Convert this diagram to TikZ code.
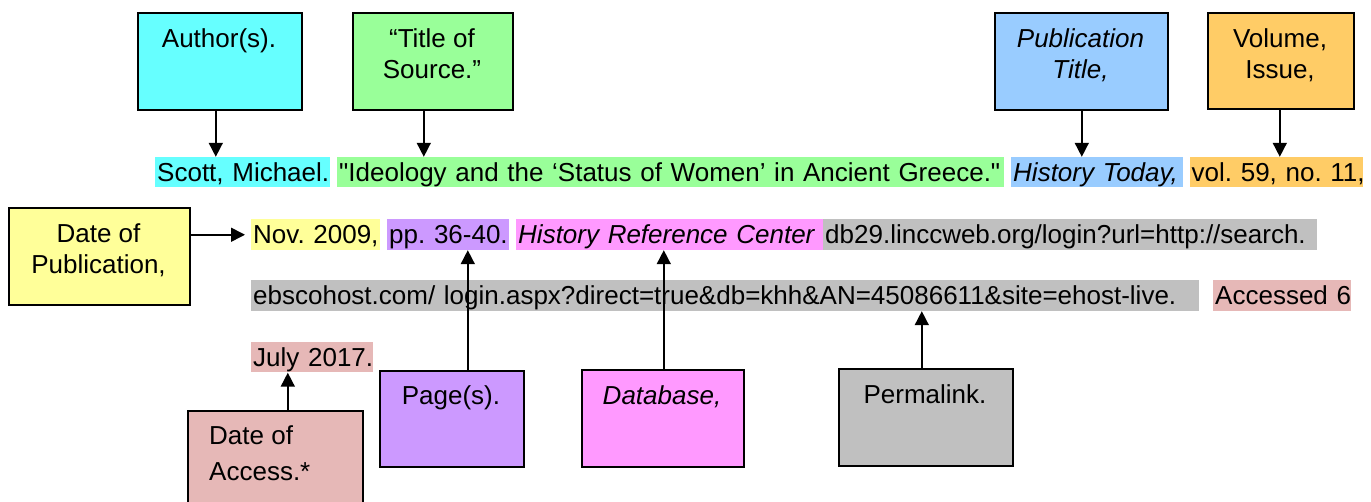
\documentclass[tikz,border=0pt]{standalone}
\usepackage{fontspec}
\setmainfont{Liberation Sans}
\usetikzlibrary{arrows.meta}
\newcommand\citefs{\fontsize{26pt}{30pt}\selectfont\frenchspacing}
\definecolor{cyanc}{HTML}{66FFFF}
\definecolor{greenc}{HTML}{99FF99}
\definecolor{bluec}{HTML}{99CCFF}
\definecolor{orangec}{HTML}{FFCC66}
\definecolor{yellowc}{HTML}{FFFF99}
\definecolor{purplec}{HTML}{CC99FF}
\definecolor{pinkc}{HTML}{FF99FF}
\definecolor{grayc}{HTML}{C0C0C0}
\definecolor{rosec}{HTML}{E6B8B7}
\begin{document}
\frenchspacing
\begin{tikzpicture}[x=1pt,y=-1pt,
  box/.style={draw=black, line width=1.6pt, inner sep=0pt, anchor=north west},
  lbl/.style={font=\citefs, anchor=base, inner sep=0pt},
  hl/.style={font=\citefs, anchor=base west, inner xsep=2pt, inner ysep=0pt,
    text height=24.5pt, text depth=6pt, align=left},
  arr/.style={line width=1.6pt, -{Triangle[width=14pt,length=14pt]}}]
\clip (0,0) rectangle (1371,502);
\fill[white] (0,0) rectangle (1371,502);

% label boxes
\node[box, fill=cyanc, minimum width=164pt, minimum height=97pt] (author) at (137,12) {};
\node[lbl] (authorT) at (219,48) {Author(s).};

\node[box, fill=greenc, minimum width=160pt, minimum height=97pt] (title) at (352,12) {};
\node[lbl] (titleA) at (432,48) {“Title of};
\node[lbl] (titleB) at (432,79) {Source.”};

\node[box, fill=bluec, minimum width=173pt, minimum height=97pt] (pubtitle) at (994,12) {};
\node[lbl, font=\citefs\itshape] (pubA) at (1080.5,48) {Publication};
\node[lbl, font=\citefs\itshape] (pubB) at (1080.5,79) {Title,};

\node[box, fill=orangec, minimum width=146pt, minimum height=96pt] (volume) at (1207,12) {};
\node[lbl] (volA) at (1280,48) {Volume,};
\node[lbl] (volB) at (1280,79) {Issue,};

\node[box, fill=yellowc, minimum width=181pt, minimum height=97pt] (datepub) at (8,207) {};
\node[lbl] (dpA) at (98.5,243) {Date of};
\node[lbl] (dpB) at (98.5,274) {Publication,};

\node[box, fill=rosec, minimum width=175pt, minimum height=120pt] (dateacc) at (187,410) {};
\node[lbl, anchor=base west] (daA) at (209,445) {Date of};
\node[lbl, anchor=base west] (daB) at (209,480) {Access.*};

\node[box, fill=purplec, minimum width=144pt, minimum height=96pt] (pages) at (379,370) {};
\node[lbl] (pgT) at (451,405) {Page(s).};

\node[box, fill=pinkc, minimum width=162pt, minimum height=97pt] (database) at (581,369) {};
\node[lbl, font=\citefs\itshape] (dbT) at (662,405) {Database,};

\node[box, fill=grayc, minimum width=174pt, minimum height=97pt] (permalink) at (838,368) {};
\node[lbl] (plT) at (925,403) {Permalink.};

% citation line 1
\node[hl, fill=cyanc, text width=171pt] (scott) at (155,181.5) {\mbox{Scott, Michael.}};
\node[hl, fill=greenc, text width=663pt] (ideo) at (337,181.5) {\mbox{\textquotedbl Ideology and the ‘Status of Women’ in Ancient Greece.\textquotedbl}};
\node[hl, fill=bluec, text width=168pt] (htoday) at (1011,181.5) {\mbox{\itshape History Today,}};
\node[hl, fill=orangec, text width=170pt, inner xsep=1.5pt] (vol) at (1190,181.5) {\mbox{vol. 59, no. 11,}};

% citation line 2
\node[hl, fill=yellowc, text width=125pt] (nov) at (251,244) {\mbox{Nov. 2009,}};
\node[hl, fill=purplec, text width=118pt] (pp) at (387,244) {\mbox{pp. 36-40.}};
\node[hl, fill=pinkc, text width=303pt] (hrc) at (516,244) {\mbox{\itshape History Reference Center}};
\node[hl, fill=grayc, text width=490pt] (url1) at (823,244) {\mbox{db29.linccweb.org/login?url=http://search.}};

% citation line 3
\node[hl, fill=grayc, text width=944pt] (url2) at (251,305) {\mbox{ebscohost.com/ login.aspx?direct=true\&db=khh\&AN=45086611\&site=ehost-live.}};
\node[hl, fill=rosec, text width=134pt] (acc) at (1213,305) {\mbox{Accessed 6}};

% citation line 4
\node[hl, fill=rosec, text width=118pt] (july) at (251,366.5) {\mbox{July 2017.}};

% connectors
\draw[arr] ([xshift=-4pt]author.south) -- ([xshift=-4pt]author.south |- scott.north);
\draw[arr] ([xshift=-9pt]title.south) -- ([xshift=-9pt]title.south |- ideo.north);
\draw[arr] ([xshift=0.5pt]pubtitle.south) -- ([xshift=0.5pt]pubtitle.south |- htoday.north);
\draw[arr] ([xshift=-1pt]volume.south) -- ([xshift=-1pt]volume.south |- vol.north);
\draw[arr] (datepub.east |- nov.west) -- ([xshift=-6pt]nov.west);
\draw[arr] ([xshift=12.5pt]dateacc.north) -- ([xshift=12.5pt]dateacc.north |- july.south);
\draw[arr] ([xshift=16pt]pages.north) -- ([xshift=16pt]pages.north |- pp.south);
\draw[arr] ([xshift=1pt]database.north) -- ([xshift=1pt]database.north |- hrc.south);
\draw[arr] ([xshift=-4pt]permalink.north) -- ([xshift=-4pt]permalink.north |- url2.south);
\end{tikzpicture}
\end{document}
